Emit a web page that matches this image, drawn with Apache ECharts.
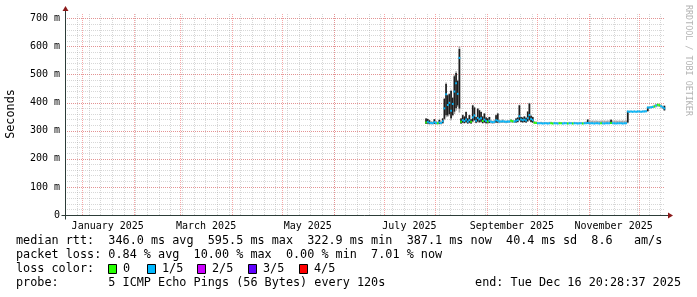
<!DOCTYPE html>
<html><head><meta charset="utf-8">
<script src="https://cdn.jsdelivr.net/npm/echarts@6/dist/echarts.min.js"></script>
<style>html,body{margin:0;padding:0;background:#fff}#c{width:697px;height:297px}</style>
</head><body><div id="c"></div><script>
// ---- data (one value per day, starting at startDay) ----
const startDay = '2025-07-26';
const median = [330,332,329,328,327,331,328,327,330,328,334,380,430,392,400,372,396,440,470,432,560,
332,338,335,340,333,338,332,348,355,336,346,341,345,335,340,335,333,336,332,331,332,338,336,333,
333,334,333,332,333,333,336,334,333,336,338,352,340,338,340,337,345,356,342,338,
329,328,327,327,327,326,327,327,326,327,327,326,327,327,326,327,327,326,327,327,326,327,327,326,327,327,326,327,327,326,327,327,
328,327,327,327,326,327,327,326,327,327,326,327,327,327,328,327,327,326,327,327,327,326,327,327,
369,368,369,368,369,368,369,369,368,369,369,370,383,383,384,385,387,390,393,391,388,384,380];
const smokeLo = [324,325,323,323,323,324,323,323,324,323,326,338,348,350,355,338,352,360,372,385,365,
325,327,326,328,325,327,325,330,335,327,330,328,330,326,328,326,326,327,326,325,326,328,327,327,
328,328,328,327,328,328,329,328,328,329,330,335,330,329,330,329,332,335,330,328,
324,324,324,324,324,324,324,324,324,324,324,324,324,324,324,324,324,324,324,324,324,324,324,324,324,324,324,324,324,324,324,324,
324,324,324,324,324,324,324,324,324,324,324,324,324,324,324,324,324,324,324,324,324,324,324,324,
327,365,366,365,366,365,366,366,365,366,366,366,369,380,380,381,382,384,386,385,382,378,372];
const smokeHi = [345,343,338,335,333,342,336,333,340,334,345,417,472,430,434,446,420,500,512,482,601,
345,357,352,369,345,357,342,393,385,350,381,375,369,352,363,348,345,350,338,336,340,357,363,340,
337,341,337,336,338,337,342,339,338,345,348,393,350,348,352,347,370,400,355,350,
334,333,332,331,332,331,332,331,331,332,332,331,332,331,331,332,331,331,332,331,331,332,331,331,332,331,331,332,331,331,332,333,
341,337,336,337,336,337,336,336,337,336,337,336,337,337,340,337,336,337,336,337,336,337,336,337,
372,372,372,371,372,371,372,372,371,372,373,373,386,387,388,390,393,396,397,396,394,390,390];
const lossLevel = [0,1,1,1,1,1,1,0,1,1,1,1,1,1,1,1,1,1,1,1,1,
0,1,1,1,1,1,0,1,1,1,1,1,1,0,1,1,0,1,1,1,1,1,1,1,
1,1,1,1,1,1,0,0,1,1,1,1,1,1,1,1,1,1,1,1,
0,0,1,1,1,1,1,1,1,1,0,0,1,1,1,0,0,1,1,1,0,1,1,0,1,1,1,1,1,0,1,1,
1,1,1,1,1,1,1,1,0,1,1,1,1,1,0,1,1,1,1,1,1,1,1,1,
1,1,1,1,1,1,1,1,1,1,1,1,1,1,1,1,0,1,0,0,1,1,1];
const lossColors = ['#26ff00','#00b8ff','#cc00ff','#6000ff','#ff0000'];
const lossLabels = ['0','1/5','2/5','3/5','4/5'];
const monthLabels = ['January 2025','March 2025','May 2025','July 2025','September 2025','November 2025'];
const yLabelValues = [0,100,200,300,400,500,600,700];
const statLines = [
  'median rtt:  346.0 ms avg  595.5 ms max  322.9 ms min  387.1 ms now  40.4 ms sd  8.6   am/s',
  'packet loss: 0.84 % avg  10.00 % max  0.00 % min  7.01 % now',
  'loss color:',
  'probe:       5 ICMP Echo Pings (56 Bytes) every 120s'
];
const endText = 'end: Tue Dec 16 20:28:37 2025';

// ---- build ----
const DAY = 86400000, HALF = DAY/2;
const T1 = Date.UTC(2025,11,16,20,28,37);
const T0 = T1 - 360*DAY;
const t0 = Date.parse(startDay + 'T12:00:00Z');
const rows = median.map((m,i)=>[t0 + i*DAY, smokeLo[i], smokeHi[i], m, lossLevel[i]]);

const weekTicks = [];
for (let t = Date.UTC(2024,11,22); t < T1; t += 7*DAY) if (t > T0) weekTicks.push([t, 0]);
const monthTicks = [];
for (let m = 0; m < 12; m++) monthTicks.push([Date.UTC(2025,m,1), 0]);
const labelTicks = [];
for (let m = 0; m < 12; m += 2) labelTicks.push((Date.UTC(2025,m,1)+Date.UTC(2025,m+1,1))/2);

const mono = 'DejaVu Sans Mono';
const FONT = '11.8px "DejaVu Sans Mono"';
const minorCol = 'rgba(150,150,150,0.38)';
const majorCol = 'rgba(240,80,80,0.5)';

function vGrid(color){
  return (p, api)=>{
    const t = api.value(0);
    const a = api.coord([t, 0]), b = api.coord([t, 720]);
    const x = Math.round(a[0]) + 0.5;
    return {type:'line', shape:{x1:x, y1:a[1], x2:x, y2:b[1]}, style:{stroke:color, lineWidth:1, lineDash:[1,1]}};
  };
}

const chart = echarts.init(document.getElementById('c'), null, {renderer:'canvas'});
chart.setOption({
  animation:false,
  backgroundColor:'#fff',
  grid:{left:65, right:32, top:13, bottom:82, containLabel:false, outerBoundsMode:'none'},
  xAxis:[
    {type:'value', min:T0, max:T1, position:'bottom', axisLine:{show:false}, axisTick:{show:false}, splitLine:{show:false},
      axisLabel:{show:true, customValues:labelTicks, margin:6, fontFamily:mono, fontSize:10, color:'#000',
        formatter:v=>monthLabels[Math.round(new Date(v).getUTCMonth()/2)]}}
  ],
  yAxis:[
    {type:'value', min:0, max:720, interval:20, axisLine:{show:false}, axisTick:{show:false}, axisLabel:{show:false},
      splitLine:{show:true, showMaxLine:false, lineStyle:{color:minorCol, type:[1,1]}}},
    {type:'value', min:0, max:720, interval:100, position:'left', z:1, axisLine:{show:false}, axisTick:{show:false},
      axisLabel:{margin:5, fontFamily:mono, fontSize:10, color:'#000',
        formatter:v=> yLabelValues.indexOf(v) < 0 ? '' : (v===0 ? '0' : v + ' m')},
      splitLine:{show:true, showMinLine:false, showMaxLine:false, lineStyle:{color:majorCol, type:[1,1]}},
      name:'Seconds', nameLocation:'middle', nameRotate:90, nameGap:48,
      nameTextStyle:{fontFamily:mono, fontSize:11.8, color:'#000'}}
  ],
  series:[
    {type:'custom', name:'weeks', data:weekTicks, encode:{x:0, y:1}, z:1, silent:true, renderItem:vGrid(minorCol)},
    {type:'custom', name:'months', data:monthTicks, encode:{x:0, y:1}, z:2, silent:true, renderItem:vGrid(majorCol)},
    {type:'custom', name:'smoke', data:rows, encode:{x:0, y:[1,2]}, z:3,
      renderItem:(p, api)=>{
        const t = api.value(0), lo = api.value(1), hi = api.value(2);
        const a = api.coord([t-HALF, hi]), b = api.coord([t+HALF, lo]);
        const ch = [{type:'rect', shape:{x:a[0], y:a[1], width:b[0]-a[0], height:Math.max(b[1]-a[1],1)}, style:{fill:'#a8a8a8'}}];
        if (hi - lo >= 15) {
          const c = api.coord([t-HALF, hi - (hi-lo)*0.04]), d = api.coord([t+HALF, lo + (hi-lo)*0.06]);
          ch.push({type:'rect', shape:{x:c[0], y:c[1], width:d[0]-c[0], height:d[1]-c[1]}, style:{fill:'#1e1e1e'}});
        }
        return {type:'group', children:ch};
      }},
    {type:'custom', name:'median', data:rows, encode:{x:0, y:3}, z:4,
      renderItem:(p, api)=>{
        const t = api.value(0), m = api.value(3), l = api.value(4);
        const a = api.coord([t-HALF, m]), b = api.coord([t+HALF, m]);
        return {type:'line', shape:{x1:a[0], y1:a[1], x2:b[0], y2:b[1]}, style:{stroke:lossColors[l], lineWidth:2}};
      }}
  ]
});

// axes, arrows and text block
const o = chart.convertToPixel({xAxisIndex:0, yAxisIndex:0}, [T0, 0]);
const e = chart.convertToPixel({xAxisIndex:0, yAxisIndex:0}, [T1, 720]);
const ax = Math.round(o[0]) + 0.5, ay = Math.round(o[1]) + 0.5;
const axisCol = '#2c3c38', arrowCol = '#8b1a1a';
const g = [
  {type:'line', shape:{x1:ax-4, y1:ay, x2:e[0]+3, y2:ay}, style:{stroke:axisCol, lineWidth:1}, z:10},
  {type:'line', shape:{x1:ax, y1:ay+4, x2:ax, y2:e[1]-2}, style:{stroke:axisCol, lineWidth:1}, z:10},
  {type:'polygon', shape:{points:[[e[0]+3, ay-3],[e[0]+8, ay],[e[0]+3, ay+3]]}, style:{fill:arrowCol}, z:10},
  {type:'polygon', shape:{points:[[ax-3, e[1]-2],[ax, e[1]-7],[ax+3, e[1]-2]]}, style:{fill:arrowCol}, z:10},
  {type:'text', x:688, y:5, rotation:-Math.PI/2, z:10,
    style:{text:'RRDTOOL / TOBI OETIKER', font:'8.4px "DejaVu Sans Mono"', fill:'#b4b4b4', align:'left', verticalAlign:'middle'}}
];
const lineY = [241, 255, 269, 283];
statLines.forEach((s,i)=>g.push({type:'text', x:16, y:lineY[i], z:10,
  style:{text:s, font:FONT, fill:'#000', align:'left', verticalAlign:'middle'}}));
g.push({type:'text', x:681, y:lineY[3], z:10,
  style:{text:endText, font:FONT, fill:'#000', align:'right', verticalAlign:'middle'}});
const boxX = [108, 147, 197, 248, 299];
lossLabels.forEach((lab,i)=>{
  g.push({type:'rect', shape:{x:boxX[i]+0.5, y:lineY[2]-4.5, width:8, height:9}, style:{fill:lossColors[i], stroke:'#000', lineWidth:1}, z:10});
  g.push({type:'text', x:boxX[i]+15, y:lineY[2], z:10,
    style:{text:lab, font:FONT, fill:'#000', align:'left', verticalAlign:'middle'}});
});
chart.setOption({graphic:g});
</script></body></html>
